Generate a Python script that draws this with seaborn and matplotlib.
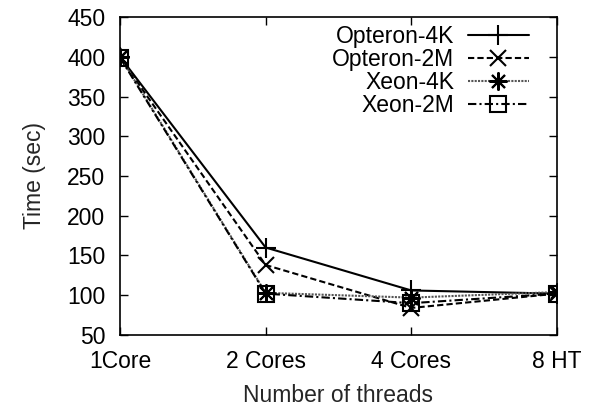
import matplotlib
matplotlib.use("Agg")
import matplotlib.pyplot as plt
import seaborn as sns
import pandas as pd

categories = ["1Core", "2 Cores", "4 Cores", "8 HT"]
opteron_4k = [400, 160, 106, 102]
opteron_2m = [399, 138, 84, 102]
xeon_4k = [400, 103, 97, 104]
xeon_2m = [399, 102, 90, 102]
series_names = ["Opteron-4K", "Opteron-2M", "Xeon-4K", "Xeon-2M"]
y_ticks = [50, 100, 150, 200, 250, 300, 350, 400, 450]

sns.set_theme(style="ticks")
plt.rcParams["font.family"] = ["Liberation Sans", "DejaVu Sans"]

FS = 16.5
fig = plt.figure(figsize=(5.9, 4.11), dpi=100)
ax = fig.add_axes([0.2034, 0.185, 0.7406, 0.7736])

styles = [
    dict(marker="+", linestyle="-", color="black", lw=1.5, ms=14, mew=1.5),
    dict(marker="x", linestyle=(0, (3, 1.5)), color="black", lw=1.5, ms=12, mew=1.5),
    dict(marker=(8, 2, 0), linestyle=(0, (1, 0.6)), color="#555555", lw=1.5, ms=13, mew=1.5),
    dict(marker="s", linestyle=(0, (4, 1.5, 1, 1.5)), color="black", lw=1.5, ms=12, mew=1.5),
]
all_vals = [opteron_4k, opteron_2m, xeon_4k, xeon_2m]
x_pos = list(range(len(categories)))

for name, vals, st in zip(series_names, all_vals, styles):
    df = pd.DataFrame({"x": x_pos, "y": vals})
    sns.lineplot(data=df, x="x", y="y", ax=ax, label=name,
                 color=st["color"], linestyle=st["linestyle"], linewidth=st["lw"],
                 marker=st["marker"], markersize=st["ms"], markeredgewidth=st["mew"],
                 markerfacecolor="none", markeredgecolor="black")

ax.set_xlim(0, 3)
ax.set_ylim(50, 450)
ax.set_xticks(x_pos)
ax.set_xticklabels(categories)
ax.set_yticks(y_ticks)
ax.tick_params(direction="in", length=6, width=1, labelsize=FS, colors="black",
               top=True, right=True)
ax.tick_params(axis="y", pad=10.5)
ax.tick_params(axis="x", pad=11)
for sp in ax.spines.values():
    sp.set_color("black")
    sp.set_linewidth(1.2)
ax.set_xlabel("Number of threads", fontsize=FS, labelpad=8)
ax.set_ylabel("Time (sec)", fontsize=FS, labelpad=15)

leg = ax.legend(loc="upper right", frameon=False, markerfirst=False, fontsize=FS,
                handlelength=2.66, handletextpad=0.6, labelspacing=0.0,
                borderaxespad=0.1, bbox_to_anchor=(0.962, 1.011))
for t in leg.get_texts():
    t.set_ha("right")
    t.set_color("black")

fig.savefig("out.png", dpi=100)
